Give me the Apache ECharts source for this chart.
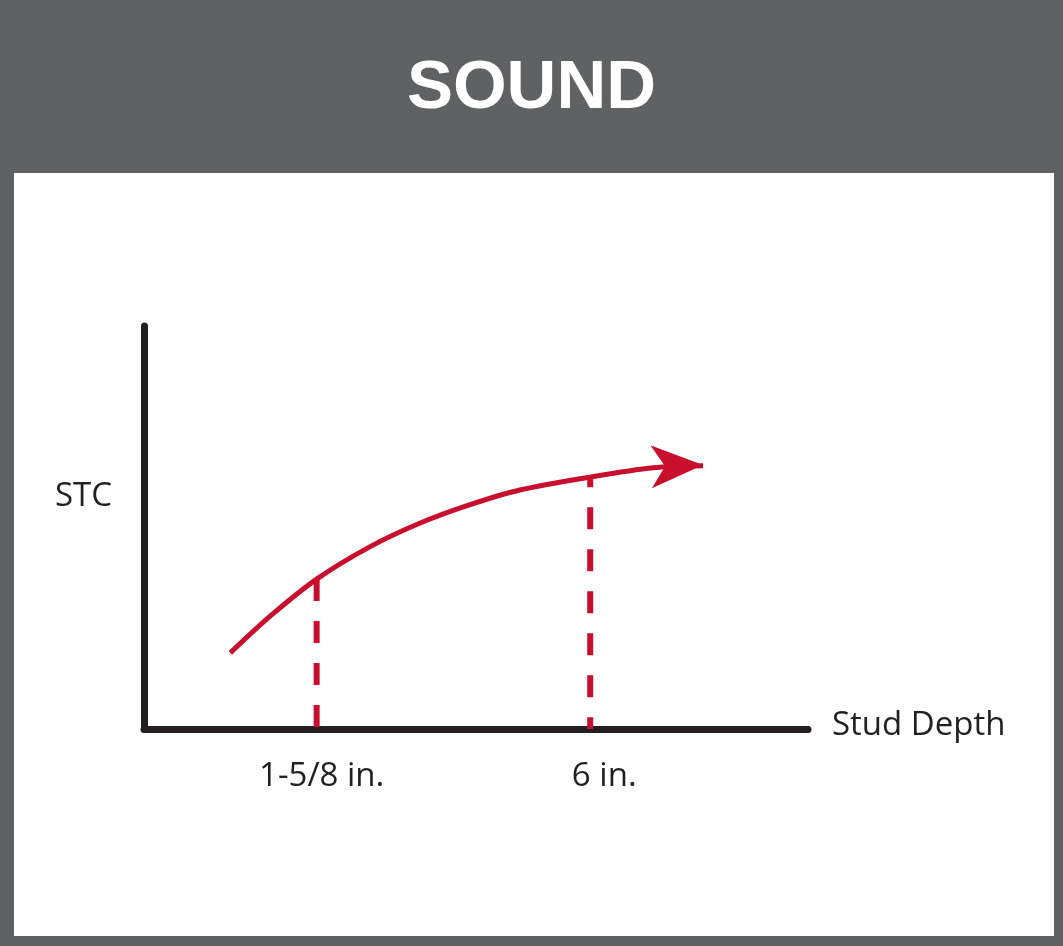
<!DOCTYPE html>
<html>
<head>
<meta charset="utf-8">
<script src="https://cdn.jsdelivr.net/npm/echarts@6/dist/echarts.min.js"></script>
<style>
  html, body { margin: 0; padding: 0; width: 1063px; height: 946px; overflow: hidden; background: #606163; }
  #panel { position: absolute; left: 14px; top: 173px; width: 1040px; height: 763px; background: #ffffff; }
  #chart { position: absolute; left: 0; top: 0; width: 1063px; height: 946px; }
</style>
</head>
<body>
<div id="panel"></div>
<div id="chart"></div>
<script>
// ---- data (abstract schematic units: x 0..10, y 0..10) ----
const curveX = [1.3, 1.9, 2.6, 3.4, 4.16, 4.9, 5.66, 6.72, 7.67, 8.42];
const curveY = [1.89, 2.8, 3.72, 4.52, 5.11, 5.56, 5.93, 6.25, 6.48, 6.53];
const arrowTip = [8.42, 6.53];
const tickLabels = ['1-5/8 in.', '6 in.'];
const tickX = [2.6, 6.72];
const tickTop = [3.72, 6.25];
const titleText = 'SOUND';
const xName = 'Stud Depth';
const yName = 'STC';

const RED = '#c8102e';
const INK = '#231f20';
const FONT = '"Open Sans", "Noto Sans", sans-serif';

const curveData = curveX.map((x, i) => [x, curveY[i]]);
const labelOffsets = [[5, 0], [14, 0]];

const dropSeries = tickX.map((x, i) => ({
  type: 'line',
  data: [[x, tickTop[i]], [x, 0]],
  symbol: 'none',
  silent: true,
  z: 2,
  lineStyle: { color: RED, width: 6, type: [22, 20], dashOffset: i === 0 ? 0 : 12 }
}));

const chart = echarts.init(document.getElementById('chart'), null, { renderer: 'canvas' });
chart.setOption({
  backgroundColor: 'transparent',
  animation: false,
  title: {
    text: titleText,
    left: 'center',
    top: 54,
    padding: 0,
    textStyle: { color: '#ffffff', fontSize: 69, fontWeight: 'bold', fontFamily: '"Liberation Sans", Arial, sans-serif', lineHeight: 69 }
  },
  grid: { left: 144, top: 326, width: 664, height: 403, containLabel: false },
  xAxis: {
    type: 'value', min: 0, max: 10,
    name: '{n|' + xName + '}', nameLocation: 'end', nameGap: 24,
    nameTextStyle: { fontSize: 33, color: INK, fontFamily: FONT,
      rich: { n: { fontSize: 33, color: INK, fontFamily: FONT, padding: [0, 0, 6, 0] } } },
    axisLine: { show: true, onZero: false, lineStyle: { color: INK, width: 7 } },
    axisTick: { show: false }, axisLabel: { show: false }, splitLine: { show: false }
  },
  yAxis: {
    type: 'value', min: 0, max: 10,
    name: yName + '\n ', nameLocation: 'middle', nameRotate: 0, nameGap: 32,
    nameTextStyle: { fontSize: 33, lineHeight: 62, color: INK, fontFamily: FONT, align: 'right', verticalAlign: 'middle' },
    axisLine: { show: true, lineStyle: { color: INK, width: 7 } },
    axisTick: { show: false }, axisLabel: { show: false }, splitLine: { show: false }
  },
  series: [
    ...dropSeries,
    {
      type: 'line',
      data: curveData,
      smooth: 0.3,
      symbol: 'none',
      z: 3,
      lineStyle: { color: RED, width: 5 }
    },
    {
      type: 'scatter',
      data: [arrowTip],
      symbol: 'path://M0,0 L52,21.5 L0,43 L14,21.5 Z',
      symbolSize: [52, 43],
      symbolOffset: ['-50%', 0],
      symbolRotate: 2,
      itemStyle: { color: RED, opacity: 1 },
      z: 4
    },
    {
      type: 'scatter',
      data: tickX.map((x, i) => ({
        value: [x, 0],
        label: { formatter: tickLabels[i], offset: labelOffsets[i] }
      })),
      symbolSize: 1,
      itemStyle: { color: 'transparent', opacity: 1 },
      z: 1,
      label: {
        show: true, position: 'bottom', distance: 31,
        fontSize: 33, lineHeight: 33, color: INK, fontFamily: FONT
      }
    }
  ]
});
</script>
</body>
</html>
